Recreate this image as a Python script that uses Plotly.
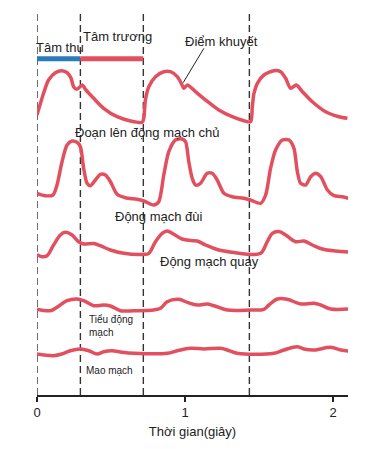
import plotly.graph_objects as go

# Time (s) and level (height above the time axis) for each pulse curve
t_aorta = [0.000, 0.045, 0.078, 0.124, 0.169, 0.203, 0.230, 0.247, 0.270, 0.306, 0.327, 0.383, 0.450, 0.541, 0.631, 0.710,
           0.721, 0.732, 0.755, 0.800, 0.856, 0.901, 0.947, 0.980, 0.991, 1.016, 1.070, 1.138, 1.228, 1.318, 1.397, 1.442,
           1.454, 1.465, 1.488, 1.532, 1.600, 1.645, 1.679, 1.713, 1.751, 1.792, 1.859, 1.949, 2.039, 2.096]
y_aorta = [280, 302, 315, 322.3, 324.3, 322.3, 316.7, 308.3, 305.7, 310, 305.7, 296.7, 286.7, 278.3, 274, 272.7,
           276.7, 295, 308.3, 318.3, 323.3, 323.3, 318.3, 310, 306.7, 310, 303.3, 295, 285, 278.3, 274.3, 273.3,
           288.3, 301.7, 311.7, 320, 324.3, 323.3, 316.7, 306.7, 310, 303.3, 293.3, 283.3, 278.3, 276.7]

t_asc = [0.000, 0.056, 0.108, 0.135, 0.169, 0.203, 0.237, 0.270, 0.293, 0.315, 0.338, 0.360, 0.394, 0.428, 0.462, 0.496,
         0.541, 0.597, 0.676, 0.721, 0.788, 0.822, 0.856, 0.890, 0.935, 0.980, 1.003, 1.025, 1.048, 1.070, 1.104, 1.149,
         1.183, 1.217, 1.262, 1.318, 1.397, 1.442, 1.510, 1.544, 1.577, 1.611, 1.657, 1.702, 1.735, 1.758, 1.780, 1.814,
         1.848, 1.882, 1.916, 1.961, 2.005, 2.062, 2.103]
y_asc = [201.7, 199.3, 200, 210, 233.3, 250, 254, 252.7, 248.3, 226.7, 211.7, 209.3, 215, 220.7, 220, 213.3,
         200.7, 197.3, 195.7, 194, 190, 193.3, 220, 243.3, 255, 256, 253.3, 233.3, 216.7, 210, 211.7, 221.7,
         221.7, 215, 201.7, 198.3, 196.7, 195, 191.7, 200, 226.7, 245, 255, 255, 246.7, 223.3, 211.7, 210,
         218.3, 221.7, 218.3, 205, 199.3, 198.3, 196.7]

t_fem = [0.000, 0.034, 0.068, 0.112, 0.158, 0.191, 0.237, 0.281, 0.315, 0.383, 0.428, 0.496, 0.586, 0.721, 0.755, 0.800,
         0.845, 0.879, 0.924, 0.980, 1.037, 1.082, 1.138, 1.228, 1.341, 1.431, 1.510, 1.555, 1.589, 1.634, 1.679, 1.746,
         1.803, 1.859, 1.927, 2.017, 2.107]
y_fem = [140.5, 138.3, 139.3, 150, 160, 162.7, 160, 153.3, 151, 151.5, 149.3, 145, 141.7, 140.7, 141.7, 153.3,
         161.7, 164, 160.7, 156, 154.5, 154, 150, 145, 142.3, 140.7, 141.7, 153.3, 161.7, 163.5, 160, 153.3,
         154, 150, 146, 144, 143]

t_art = [0.000, 0.090, 0.135, 0.203, 0.270, 0.315, 0.383, 0.450, 0.496, 0.563, 0.653, 0.788, 0.834, 0.879, 0.957, 1.014,
         1.082, 1.149, 1.194, 1.285, 1.442, 1.532, 1.566, 1.623, 1.690, 1.780, 1.870, 1.916, 1.984, 2.107]
y_art = [85.7, 84.3, 87.7, 94.3, 96, 94.3, 89.3, 90, 89, 84.3, 84.3, 85, 86.7, 93.3, 95.7, 92.7,
         90, 91, 89.3, 85, 85, 85.7, 90, 96, 95.7, 91, 91.7, 90, 86, 86]

t_cap = [0.000, 0.112, 0.169, 0.225, 0.293, 0.349, 0.406, 0.450, 0.507, 0.575, 0.653, 0.879, 0.947, 1.037, 1.126, 1.239,
         1.285, 1.352, 1.600, 1.667, 1.758, 1.803, 1.870, 1.984, 2.052, 2.107]
y_cap = [41, 39.3, 41, 44.3, 46, 44.3, 41, 43.3, 44.3, 42.7, 41.7, 41.7, 44.3, 46.7, 46, 46.7,
         45, 41.7, 41.7, 45, 48.3, 46, 45, 47.7, 45, 44]

phase_marks = [0.0, 0.293, 0.718, 1.434]   # dashed guide lines (s)
systole = [0.0, 0.293]
diastole = [0.293, 0.718]
bar_level = 336.3
x_ticks = [0, 1, 2]

RED = "#e2505f"
BLUE = "#2b7bba"
FONT = "Liberation Sans, Arial, sans-serif"

fig = go.Figure()
for (tx, ty), sm in zip([(t_aorta, y_aorta), (t_asc, y_asc), (t_fem, y_fem), (t_art, y_art), (t_cap, y_cap)],
                        [0.75, 0.75, 1.0, 1.0, 1.0]):
    fig.add_trace(go.Scatter(x=tx, y=ty, mode="lines",
                             line=dict(color=RED, width=3.5, shape="spline", smoothing=sm),
                             hoverinfo="skip", showlegend=False))

shapes = []
for m in phase_marks:
    shapes.append(dict(type="line", xref="x", yref="y", x0=m, x1=m, y0=0, y1=383,
                       line=dict(color="#333333", width=1.4, dash="7px,4px"), layer="below"))
shapes.append(dict(type="line", xref="x", yref="y", x0=systole[0], x1=systole[1], y0=bar_level, y1=bar_level,
                   line=dict(color=BLUE, width=5)))
shapes.append(dict(type="line", xref="x", yref="y", x0=diastole[0], x1=diastole[1], y0=bar_level, y1=bar_level,
                   line=dict(color=RED, width=5)))
shapes.append(dict(type="line", xref="x", yref="y", x0=1.127, x1=0.987, y0=346.7, y1=312.3,
                   line=dict(color="#222222", width=1)))

def ann(text, x, y, size=13, xshift=0):
    return dict(text=text, x=x, y=y, xref="x", yref="y", showarrow=False, xanchor="left", yanchor="middle",
                align="left", xshift=xshift, font=dict(family=FONT, size=size, color="#222222"))

annotations = [
    ann("Tâm thu", 0.0, 348, xshift=-3),
    ann("Tâm trương", 0.300, 359),
    ann("Điểm khuyết", 0.983, 354),
    ann("Đoạn lên động mạch chủ", 0.245, 262.3),
    ann("Động mạch đùi", 0.514, 179),
    ann("Động mạch quay", 0.815, 133.3),
    ann("Tiểu động<br>mạch", 0.340, 69.5, size=10),
    ann("Mao mạch", 0.315, 25, size=10),
]

fig.update_layout(
    width=390, height=449,
    margin=dict(l=37, r=42, t=0, b=54),
    paper_bgcolor="white", plot_bgcolor="white",
    shapes=shapes, annotations=annotations,
    font=dict(family=FONT, size=13, color="#222222"),
    xaxis=dict(range=[0, 2.1], tickvals=x_ticks, ticktext=[str(v) for v in x_ticks],
               showgrid=False, zeroline=False, showline=True, linecolor="#222222", linewidth=1.5,
               ticks="outside", ticklen=5, tickwidth=1.5, tickcolor="#222222",
               tickfont=dict(family=FONT, size=13, color="#222222"),
               title=dict(text="Thời gian(giây)", font=dict(family=FONT, size=13, color="#222222"), standoff=8),
               fixedrange=True, automargin=False),
    yaxis=dict(range=[0, 395], visible=False, fixedrange=True),
)

fig.write_html("out.html", config={"displayModeBar": False},
               post_script="document.body.style.margin='0';document.body.style.overflow='hidden';")
